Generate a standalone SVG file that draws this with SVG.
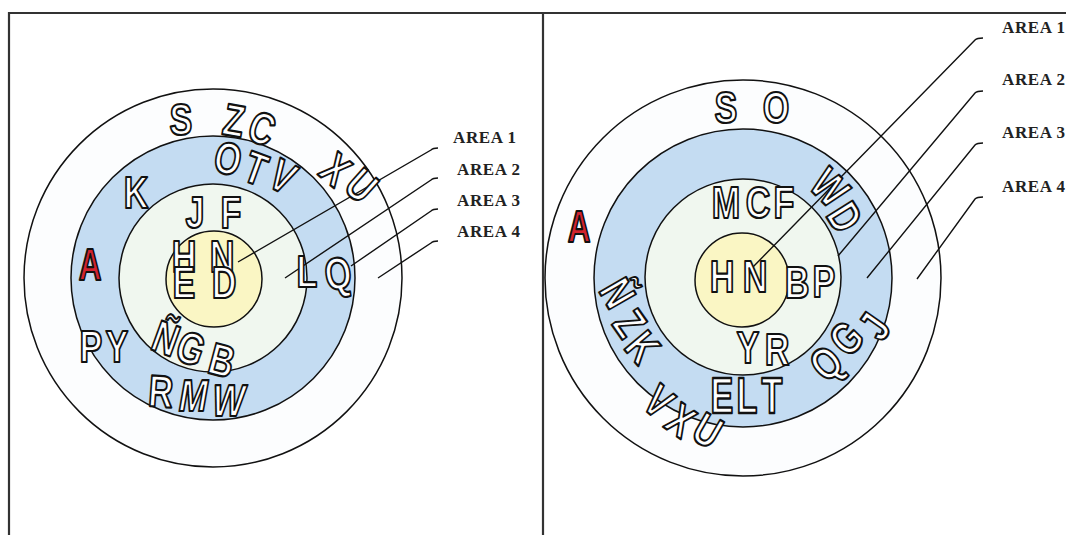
<svg xmlns="http://www.w3.org/2000/svg" width="1066" height="535" viewBox="0 0 1066 535">
<style>
.frame{stroke:#333;stroke-width:2.2;fill:none}
.c{stroke:#111;stroke-width:1.5}
.a4{fill:#fcfdfe}.a3{fill:#c4dcf2}.a2{fill:#f0f7ef}.a1{fill:#faf6c4}
.ld{fill:none;stroke:#111;stroke-width:1.4}
.L{font-family:'Liberation Sans','Arial',sans-serif;font-weight:bold;font-size:45px;fill:#fff;stroke:#111;stroke-width:2.2;stroke-linejoin:round;text-anchor:middle}
.red{fill:#d2232e}
.lab{font-family:'Liberation Serif','Times New Roman',serif;font-weight:bold;font-size:17px;fill:#222;letter-spacing:0.6px}
</style>
<rect width="1066" height="535" fill="#fff"/>
<g id="frame">
<line class="frame" x1="8" y1="13" x2="1066" y2="13"/>
<line class="frame" x1="9" y1="12" x2="9" y2="535"/>
<line class="frame" x1="543" y1="12" x2="543" y2="535" stroke-width="3"/>
</g>
<g id="left-areas">
<circle class="c a4" cx="213" cy="278" r="189"/>
<circle class="c a3" cx="213" cy="278" r="142"/>
<circle class="c a2" cx="213" cy="278" r="94"/>
<circle class="c a1" cx="214" cy="279" r="48"/>
</g>
<g id="right-areas">
<circle class="c a4" cx="743" cy="278" r="198"/>
<circle class="c a3" cx="743" cy="278" r="149"/>
<circle class="c a2" cx="743" cy="277" r="98"/>
<circle class="c a1" cx="742" cy="280" r="47"/>
</g>
<g id="connectors">
<path class="ld" d="M238,262 L431,150 Q433,148 438,148"/>
<path class="ld" d="M285,278 L431,180 Q433,178 438,178"/>
<path class="ld" d="M351,266 L431,211 Q433,209 438,209"/>
<path class="ld" d="M378,278 L431,243 Q433,241 438,241"/>
<path class="ld" d="M752,268 L975,40 Q977,38 983,38"/>
<path class="ld" d="M838,256 L975,93 Q977,91 983,91"/>
<path class="ld" d="M867,278 L975,145 Q977,143 983,143"/>
<path class="ld" d="M917,279 L975,199 Q977,197 983,197"/>
</g>
<g id="left-letters">
<text class="L" transform="translate(181 135) scale(0.76 1)">S</text>
<text class="L" transform="translate(234 120) rotate(10) scale(0.76 1)" y="16">Z</text>
<text class="L" transform="translate(262 128) rotate(20) scale(0.76 1)" y="16">C</text>
<text class="L" transform="translate(228 158) rotate(12) scale(0.76 1)" y="16">O</text>
<text class="L" transform="translate(256 168) rotate(20) scale(0.76 1)" y="16">T</text>
<text class="L" transform="translate(283 176) rotate(28) scale(0.76 1)" y="16">V</text>
<text class="L" transform="translate(336 169) rotate(40) scale(0.76 1)" y="16">X</text>
<text class="L" transform="translate(362 185) rotate(42) scale(0.76 1)" y="16">U</text>
<text class="L" transform="translate(136 208) scale(0.76 1)">K</text>
<text class="L" transform="translate(195 228) scale(0.76 1)">J</text>
<text class="L" transform="translate(231 228) scale(0.76 1)">F</text>
<text class="L red" transform="translate(90 280) scale(0.7 1)">A</text>
<text class="L" transform="translate(184 272) scale(0.76 1)">H</text>
<text class="L" transform="translate(222 272) scale(0.76 1)">N</text>
<text class="L" transform="translate(184 298) scale(0.76 1)">E</text>
<text class="L" transform="translate(224 298) scale(0.76 1)">D</text>
<text class="L" transform="translate(307 287) scale(0.76 1)">L</text>
<text class="L" transform="translate(338 273) rotate(-8) scale(0.76 1)" y="16">Q</text>
<text class="L" transform="translate(91 362) scale(0.76 1)">P</text>
<text class="L" transform="translate(117 362) scale(0.76 1)">Y</text>
<text class="L" transform="translate(166 338) rotate(20) scale(0.76 1)" y="16">Ñ</text>
<text class="L" transform="translate(191 348) rotate(20) scale(0.76 1)" y="16">G</text>
<text class="L" transform="translate(222 360) rotate(15) scale(0.76 1)" y="16">B</text>
<text class="L" transform="translate(161 391) rotate(4) scale(0.76 1)" y="16">R</text>
<text class="L" transform="translate(194 395) skewX(-10) scale(0.76 1)" y="16">M</text>
<text class="L" transform="translate(229 400) skewX(-10) scale(0.76 1)" y="16">W</text>
</g>
<g id="right-letters">
<text class="L" transform="translate(726 123) scale(0.76 1)">S</text>
<text class="L" transform="translate(776 123) scale(0.76 1)">O</text>
<text class="L red" transform="translate(579 242) scale(0.7 1)">A</text>
<text class="L" transform="translate(726 218) scale(0.76 1)">M</text>
<text class="L" transform="translate(758 218) scale(0.76 1)">C</text>
<text class="L" transform="translate(784 218) scale(0.76 1)">F</text>
<text class="L" transform="translate(830 187) rotate(45) scale(0.76 1)" y="16">W</text>
<text class="L" transform="translate(845 217) rotate(58) scale(0.76 1)" y="16">D</text>
<text class="L" transform="translate(722 292) scale(0.76 1)">H</text>
<text class="L" transform="translate(755 292) scale(0.76 1)">N</text>
<text class="L" transform="translate(797 298) scale(0.76 1)">B</text>
<text class="L" transform="translate(824 297) scale(0.76 1)">P</text>
<text class="L" transform="translate(748 363) scale(0.76 1)">Y</text>
<text class="L" transform="translate(777 365) scale(0.76 1)">R</text>
<text class="L" transform="translate(722 413) scale(0.76 1.1)">E</text>
<text class="L" transform="translate(747 413) scale(0.76 1.1)">L</text>
<text class="L" transform="translate(772 413) scale(0.76 1.1)">T</text>
<text class="L" transform="translate(618 293) rotate(60) scale(0.76 1)" y="16">Ñ</text>
<text class="L" transform="translate(630 323) rotate(55) scale(0.76 1)" y="16">Z</text>
<text class="L" transform="translate(643 347) rotate(50) scale(0.76 1)" y="16">K</text>
<text class="L" transform="translate(659 401) rotate(40) scale(0.76 1)" y="16">V</text>
<text class="L" transform="translate(681 420) rotate(35) scale(0.76 1)" y="16">X</text>
<text class="L" transform="translate(708 430) rotate(30) scale(0.76 1)" y="16">U</text>
<text class="L" transform="translate(826 363) rotate(-40) scale(0.76 1)" y="16">Q</text>
<text class="L" transform="translate(846 338) rotate(-45) scale(0.76 1)" y="16">G</text>
<text class="L" transform="translate(874 326) rotate(-55) scale(0.76 1)" y="16">J</text>
</g>
<g id="left-labels">
<g id="l-area1"><text class="lab" x="453" y="143">AREA 1</text></g>
<g id="l-area2"><text class="lab" x="457" y="175">AREA 2</text></g>
<g id="l-area3"><text class="lab" x="457" y="206">AREA 3</text></g>
<g id="l-area4"><text class="lab" x="457" y="237">AREA 4</text></g>
</g>
<g id="right-labels">
<g id="r-area1"><text class="lab" x="1002" y="33">AREA 1</text></g>
<g id="r-area2"><text class="lab" x="1002" y="85">AREA 2</text></g>
<g id="r-area3"><text class="lab" x="1002" y="138">AREA 3</text></g>
<g id="r-area4"><text class="lab" x="1002" y="192">AREA 4</text></g>
</g>
</svg>
